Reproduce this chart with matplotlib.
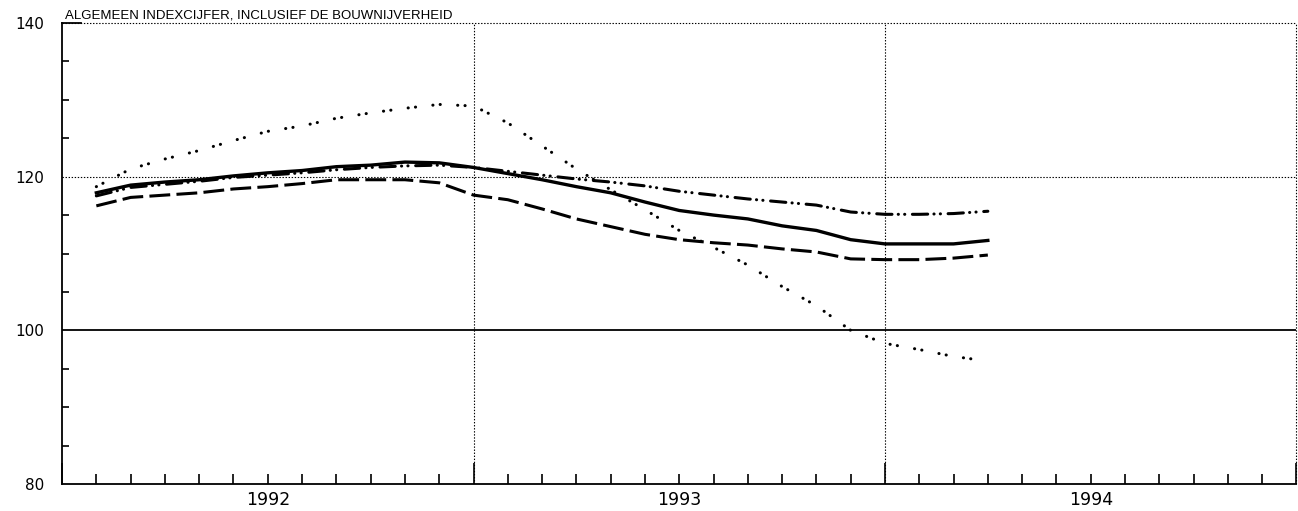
import matplotlib
matplotlib.use('Agg')
import matplotlib.pyplot as plt
import numpy as np

plt.rcParams['font.family'] = ['Liberation Sans', 'DejaVu Sans']
plt.rcParams['lines.scale_dashes'] = False

# months counted from jan 1992 (0 = 1 jan 1992), monthly index feb 1992 .. apr 1994
months = list(range(1, 28))

solid = [117.9, 118.9, 119.3, 119.6, 120.1, 120.5, 120.8, 121.3, 121.5, 121.9,
         121.8, 121.2, 120.4, 119.6, 118.7, 117.9, 116.7, 115.6, 115.0, 114.5,
         113.6, 113.0, 111.8, 111.25, 111.25, 111.25, 111.7]
dashed = [116.2, 117.3, 117.6, 117.9, 118.4, 118.7, 119.1, 119.6, 119.6, 119.6,
          119.2, 117.6, 117.0, 115.8, 114.5, 113.5, 112.5, 111.8, 111.4, 111.1,
          110.6, 110.2, 109.3, 109.2, 109.2, 109.4, 109.8]
dashdot = [117.5, 118.6, 119.0, 119.4, 119.9, 120.2, 120.5, 120.9, 121.2, 121.4,
           121.5, 121.2, 120.7, 120.2, 119.7, 119.3, 118.8, 118.1, 117.6, 117.1,
           116.7, 116.3, 115.4, 115.1, 115.1, 115.2, 115.5]
dotted = [118.7, 121.0, 122.3, 123.4, 124.7, 125.9, 126.6, 127.6, 128.3, 128.9,
          129.4, 129.2, 127.0, 124.0, 121.0, 118.3, 115.7, 113.0, 110.8, 108.5,
          105.7, 103.2, 100.0, 98.3, 97.5, 96.6, 96.0]

years = ['1992', '1993', '1994']
year_starts = [0, 12, 24, 36]
yticks_major = [80, 100, 120, 140]
yticks_minor = [85, 90, 95, 105, 110, 115, 125, 130, 135]

title = 'ALGEMEEN INDEXCIJFER, INCLUSIEF DE BOUWNIJVERHEID'

fig = plt.figure(figsize=(12.98, 5.11), dpi=100)
ax = fig.add_axes([0.0478, 0.0528, 0.951, 0.9022])

ax.set_xlim(0, 36)
ax.set_ylim(80, 140)

# grid lines
dot_grid = dict(color='black', lw=0.8, linestyle=(0, (1, 1.2)))
ax.axhline(120, **dot_grid, zorder=1)
ax.axhline(140, **dot_grid, zorder=1, clip_on=False)
ax.axhline(100, color='black', lw=1.3, zorder=1)
for ys in year_starts[1:3]:
    ax.axvline(ys, **dot_grid, zorder=1)
ax.axvline(36, **dot_grid, zorder=1, clip_on=False)

# series
ax.plot(months, dotted, color='black', lw=2.2, linestyle=(0, (0.1, 5.2, 0.1, 12.5)),
        dash_capstyle='round', zorder=3)
ax.plot(months, dashed, color='black', lw=2.2, linestyle=(0, (15, 4.5)), zorder=3)
ax.plot(months, dashdot, color='black', lw=2.2,
        linestyle=(0, (11, 4.5, 0.1, 4.5, 0.1, 5.5)), dash_capstyle='round', zorder=3)
ax.plot(months, solid, color='black', lw=2.4, zorder=4)

# spines
for s in ['top', 'right']:
    ax.spines[s].set_visible(False)
ax.spines['left'].set_linewidth(1.3)
ax.spines['bottom'].set_linewidth(1.3)

# ticks
ax.set_yticks(yticks_major)
ax.set_yticklabels([str(v) for v in yticks_major], fontsize=11, family='DejaVu Sans')
ax.set_yticks(yticks_minor, minor=True)
ax.tick_params(axis='y', which='major', direction='in', length=0, pad=13)
ax.tick_params(axis='y', which='minor', direction='in', length=5, width=1.2)
ax.plot([0, 0.55], [140, 140], color='black', lw=1.3, clip_on=False, zorder=5)

ax.set_xticks(year_starts)
ax.set_xticklabels([])
ax.set_xticks([m for m in range(1, 36) if m % 12 != 0], minor=True)
ax.tick_params(axis='x', which='major', direction='in', length=15, width=1.2)
ax.tick_params(axis='x', which='minor', direction='in', length=7, width=1.2)

for i, yr in enumerate(years):
    ax.text(year_starts[i] + 6, -0.015, yr, transform=ax.get_xaxis_transform(),
            ha='center', va='top', fontsize=12.5, family='DejaVu Sans')

ax.text(0.002, 1.004, title, transform=ax.transAxes, ha='left', va='bottom',
        fontsize=9.5)

fig.savefig('out.png', dpi=100)
